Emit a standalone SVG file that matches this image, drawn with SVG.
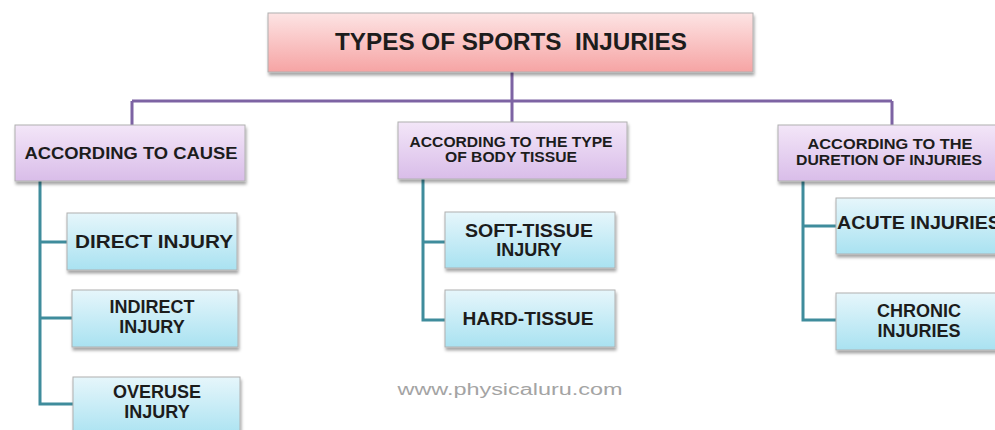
<svg xmlns="http://www.w3.org/2000/svg" width="995" height="430" viewBox="0 0 995 430">
<defs>
<linearGradient id="gPink" x1="0" y1="0" x2="0" y2="1"><stop offset="0" stop-color="#fde4e4"/><stop offset="1" stop-color="#f6a4a4"/></linearGradient>
<linearGradient id="gLav" x1="0" y1="0" x2="0" y2="1"><stop offset="0" stop-color="#f3e6f8"/><stop offset="1" stop-color="#d9bde9"/></linearGradient>
<linearGradient id="gCyan" x1="0" y1="0" x2="0" y2="1"><stop offset="0" stop-color="#e6f6fb"/><stop offset="1" stop-color="#a9e2f1"/></linearGradient>
<filter id="sh" x="-5%" y="-10%" width="115%" height="130%"><feDropShadow dx="1" dy="3" stdDeviation="1.5" flood-color="#000" flood-opacity="0.35"/></filter>
</defs>
<style>
.t{font-family:"Liberation Sans",Arial,sans-serif;font-weight:bold;fill:#1c1c1c;text-anchor:middle;white-space:pre}
.box{stroke:#b0b0b0;stroke-width:1;filter:url(#sh)}
.p{fill:url(#gPink)}.l{fill:url(#gLav)}.c{fill:url(#gCyan)}
.purp{stroke:#7d63a3;stroke-width:3;fill:none}
.teal{stroke:#3f8c9c;stroke-width:3;fill:none}
</style>
<rect width="995" height="430" fill="#ffffff"/>
<g id="connectors">
<path class="purp" d="M512 72V101M132 101H892M132 101V125M512 101V122M892 101V125"/>
<path class="teal" d="M40 181V404H73M40 242H67M40 318H72"/>
<path class="teal" d="M423 179V320H445M423 242H445"/>
<path class="teal" d="M803 181V320H836M803 226H836"/>
</g>
<g id="title"><rect class="box p" x="268" y="13" width="485" height="59"/><text class="t" x="511" y="50" font-size="23" textLength="352" lengthAdjust="spacingAndGlyphs">TYPES OF SPORTS  INJURIES</text></g>
<g id="cause"><rect class="box l" x="15" y="125" width="230" height="56"/><text class="t" x="131" y="159" font-size="16" textLength="213" lengthAdjust="spacingAndGlyphs">ACCORDING TO CAUSE</text></g>
<g id="tissue"><rect class="box l" x="398" y="122" width="229" height="57"/><text class="t" x="511" y="147" font-size="14.5" textLength="203" lengthAdjust="spacingAndGlyphs">ACCORDING TO THE TYPE</text><text class="t" x="511" y="162" font-size="14.5" textLength="132" lengthAdjust="spacingAndGlyphs">OF BODY TISSUE</text></g>
<g id="duration"><rect class="box l" x="778" y="125" width="225" height="56"/><text class="t" x="890" y="149" font-size="14.5" textLength="165" lengthAdjust="spacingAndGlyphs">ACCORDING TO THE</text><text class="t" x="889" y="165" font-size="14.5" textLength="186" lengthAdjust="spacingAndGlyphs">DURETION OF INJURIES</text></g>
<g id="direct"><rect class="box c" x="67" y="213" width="170" height="57"/><text class="t" x="154" y="248" font-size="18" textLength="158" lengthAdjust="spacingAndGlyphs">DIRECT INJURY</text></g>
<g id="indirect"><rect class="box c" x="72" y="290" width="166" height="57"/><text class="t" x="152" y="313" font-size="18">INDIRECT</text><text class="t" x="152" y="333" font-size="18">INJURY</text></g>
<g id="overuse"><rect class="box c" x="73" y="377" width="167" height="60"/><text class="t" x="157" y="398" font-size="18">OVERUSE</text><text class="t" x="157" y="418" font-size="18">INJURY</text></g>
<g id="soft"><rect class="box c" x="445" y="212" width="170" height="56"/><text class="t" x="529" y="237" font-size="18" textLength="128" lengthAdjust="spacingAndGlyphs">SOFT-TISSUE</text><text class="t" x="529" y="256" font-size="18">INJURY</text></g>
<g id="hard"><rect class="box c" x="445" y="290" width="170" height="57"/><text class="t" x="528" y="325" font-size="18" textLength="131" lengthAdjust="spacingAndGlyphs">HARD-TISSUE</text></g>
<g id="acute"><rect class="box c" x="836" y="198" width="170" height="56"/><text class="t" x="837" y="229" font-size="18" text-anchor="start" style="text-anchor:start" textLength="164" lengthAdjust="spacingAndGlyphs">ACUTE INJURIES</text></g>
<g id="chronic"><rect class="box c" x="836" y="293" width="170" height="57"/><text class="t" x="919" y="317" font-size="18">CHRONIC</text><text class="t" x="919" y="337" font-size="18">INJURIES</text></g>
<text x="510" y="395" font-family="'Liberation Sans',Arial,sans-serif" font-size="16" fill="#a4a4a4" text-anchor="middle" textLength="225" lengthAdjust="spacingAndGlyphs">www.physicaluru.com</text>
</svg>
